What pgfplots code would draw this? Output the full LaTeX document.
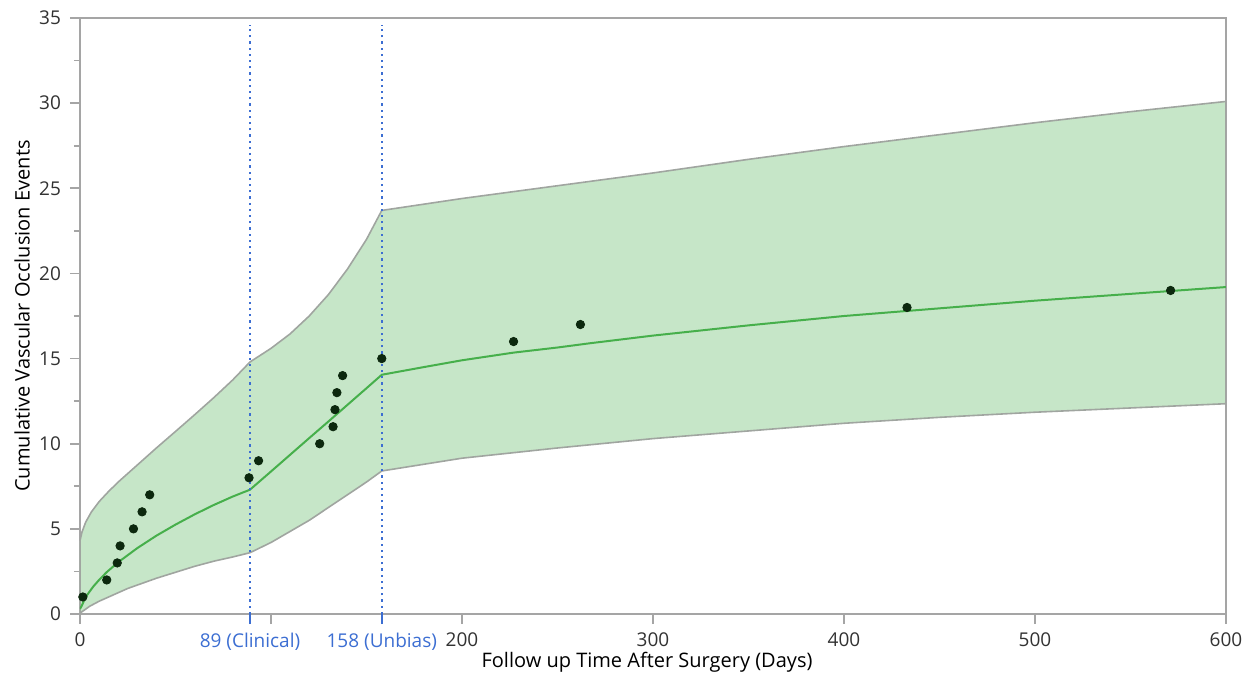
\documentclass[border=0pt]{standalone}
\usepackage{pgfplots}
\pgfplotsset{compat=1.18}
\usepackage{fontspec}
\setmainfont{Open Sans}
\definecolor{bandfill}{RGB}{198,230,200}
\definecolor{bandedge}{RGB}{160,165,160}
\definecolor{meanline}{RGB}{70,175,75}
\definecolor{dotc}{RGB}{12,40,14}
\definecolor{vblue}{RGB}{60,110,210}
\definecolor{axgray}{RGB}{165,165,165}
\definecolor{txt}{RGB}{50,50,50}
\begin{document}
\begin{tikzpicture}
\begin{axis}[
  at={(0,0)}, anchor=south west,
  scale only axis,
  width=573pt, height=298pt,
  xmin=0, xmax=600, ymin=0, ymax=35,
  axis line style={axgray, line width=0.9pt},
  tick style={axgray, line width=0.9pt},
  tick align=outside,
  xtick pos=bottom, ytick pos=left,
  major tick length=5pt,
  minor tick length=3pt,
  xtick={0,100,200,300,400,500,600},
  xticklabels={0,,200,300,400,500,600},
  ytick={0,5,...,35},
  minor y tick num=1,
  extra x ticks={89,158},
  extra x tick labels={89 (Clinical),158 (Unbias)},
  extra x tick style={tick style={vblue}, ticklabel style={text=vblue}, grid=none},
  every tick label/.append style={font=\fontsize{9.5}{11}\selectfont, text=txt},
  /pgf/number format/assume math mode=true,
  xticklabel style={yshift=-1pt},
  yticklabel style={xshift=-1pt},
  xlabel={Follow up Time After Surgery (Days)},
  ylabel={Cumulative Vascular Occlusion Events},
  label style={font=\fontsize{9.5}{11}\selectfont, text=txt},
  every axis x label/.style={at={(axis description cs:0.4948,-0.0805)}, anchor=center},
  every axis y label/.style={at={(axis description cs:-0.0506,0.5)}, anchor=center, rotate=90},
  clip=true,
]
% confidence band: upper edge left to right, lower edge right to left
\addplot[fill=bandfill, draw=bandedge, line width=0.8pt] coordinates {
  (0,4.3) (1,4.8) (3,5.4) (6,6.0) (10,6.6) (15,7.2) (20,7.75) (26,8.35) (30,8.75) (40,9.75) (50,10.72) (60,11.7) (70,12.7) (80,13.75) (89,14.8)
  (100,15.6) (110,16.45) (120,17.5) (130,18.75) (140,20.25) (150,22.0) (158,23.7)
  (200,24.4) (250,25.15) (300,25.9) (350,26.7) (400,27.45) (450,28.15) (500,28.85) (550,29.5) (600,30.1)
  (600,12.35) (550,12.1) (500,11.85) (450,11.55) (400,11.2) (350,10.75) (300,10.3) (250,9.75) (200,9.15) (158,8.4)
  (150,7.75) (140,7.0) (130,6.25) (120,5.5) (110,4.85) (100,4.2) (89,3.6)
  (80,3.35) (70,3.1) (60,2.8) (50,2.45) (40,2.1) (25,1.5) (15,1.0) (10,0.75) (5,0.45) (0,0.05)
} -- cycle;
% mean function
\addplot[meanline, line width=1pt] coordinates {
  (0,0.3) (1,0.5) (2,0.76) (4,1.16) (7,1.62) (10,2.0) (14,2.46) (20,3.04) (30,3.87) (40,4.6) (50,5.25) (60,5.85) (70,6.4) (80,6.9) (89,7.3)
  (100,8.37) (110,9.35) (120,10.33) (130,11.3) (140,12.28) (150,13.26) (158,14.05)
  (180,14.5) (200,14.9) (227,15.35) (250,15.65) (267,15.9) (300,16.35) (350,16.95) (400,17.5) (450,17.95) (500,18.4) (550,18.8) (600,19.2)
};
% change points
\addplot[vblue, dotted, line width=1.1pt] coordinates {(89,0) (89,34.6)};
\addplot[vblue, dotted, line width=1.1pt] coordinates {(158,0) (158,34.6)};
% observed cumulative events
\addplot[only marks, mark=*, mark size=2.1pt, mark options={fill=dotc, draw=dotc}] coordinates {
  (1.5,1) (14,2) (19.5,3) (21,4) (28,5) (32.5,6) (36.5,7) (88.5,8) (93.5,9)
  (125.5,10) (132.5,11) (133.5,12) (134.5,13) (137.5,14) (158,15)
  (227,16) (262,17) (433,18) (571,19)
};
\end{axis}
\pgfresetboundingbox
\useasboundingbox (-40pt,-34pt) rectangle (586.5pt,307pt);
\end{tikzpicture}
\end{document}
